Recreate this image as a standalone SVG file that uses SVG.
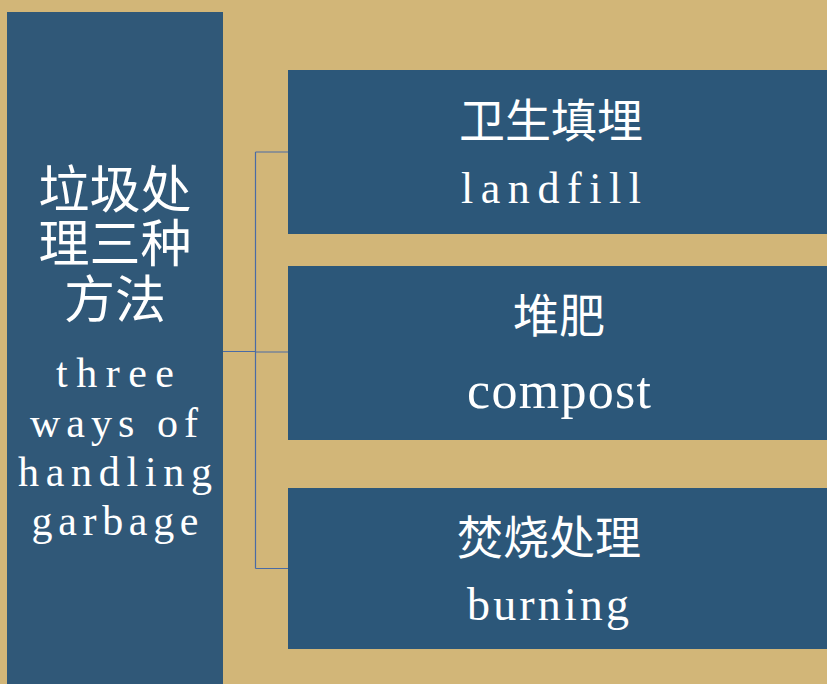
<svg xmlns="http://www.w3.org/2000/svg" width="827" height="684" viewBox="0 0 827 684">
  <style>
    .box { fill: #2C5779; }
    .root { fill: #305878; }
    .cjk { font-family: "Noto Sans CJK SC", sans-serif; fill: #FFFFFF; text-anchor: middle; }
    .lat { font-family: "Liberation Serif", serif; fill: #FFFFFF; text-anchor: middle; }
    .conn { stroke: #4A6BA5; stroke-width: 1.2; fill: none; }
  </style>
  <rect x="0" y="0" width="827" height="684" fill="#D2B678"/>
  <g id="connectors">
    <path class="conn" d="M223 351.5 H255.5"/>
    <path class="conn" d="M255.5 152 V568.5"/>
    <path class="conn" d="M255.5 152 H288"/>
    <path class="conn" d="M255.5 352 H288"/>
    <path class="conn" d="M255.5 568.5 H288"/>
  </g>
  <g id="root">
    <rect class="root" x="7" y="12" width="216" height="672"/>
    <text class="cjk" font-size="51"><tspan x="115" y="208">垃圾处</tspan><tspan x="115" y="262">理三种</tspan><tspan x="115" y="318">方法</tspan></text>
    <text class="lat" font-size="42"><tspan x="115" y="387" textLength="118" lengthAdjust="spacing">three</tspan><tspan x="114" y="437" textLength="168" lengthAdjust="spacing">ways of</tspan><tspan x="115" y="486" textLength="194" lengthAdjust="spacing">handling</tspan><tspan x="115" y="535" textLength="167" lengthAdjust="spacing">garbage</tspan></text>
  </g>
  <g id="landfill">
    <rect class="box" x="288" y="70" width="539" height="164"/>
    <text class="cjk" font-size="46" x="551" y="137">卫生填埋</text>
    <text class="lat" font-size="44" x="551" y="203" textLength="180" lengthAdjust="spacing">landfill</text>
  </g>
  <g id="compost">
    <rect class="box" x="288" y="266" width="539" height="174"/>
    <text class="cjk" font-size="46" x="559" y="332">堆肥</text>
    <text class="lat" font-size="52" x="559" y="408" textLength="184" lengthAdjust="spacing">compost</text>
  </g>
  <g id="burning">
    <rect class="box" x="288" y="488" width="539" height="161"/>
    <text class="cjk" font-size="46" x="549" y="554">焚烧处理</text>
    <text class="lat" font-size="46" x="548" y="620" textLength="162" lengthAdjust="spacing">burning</text>
  </g>
</svg>
